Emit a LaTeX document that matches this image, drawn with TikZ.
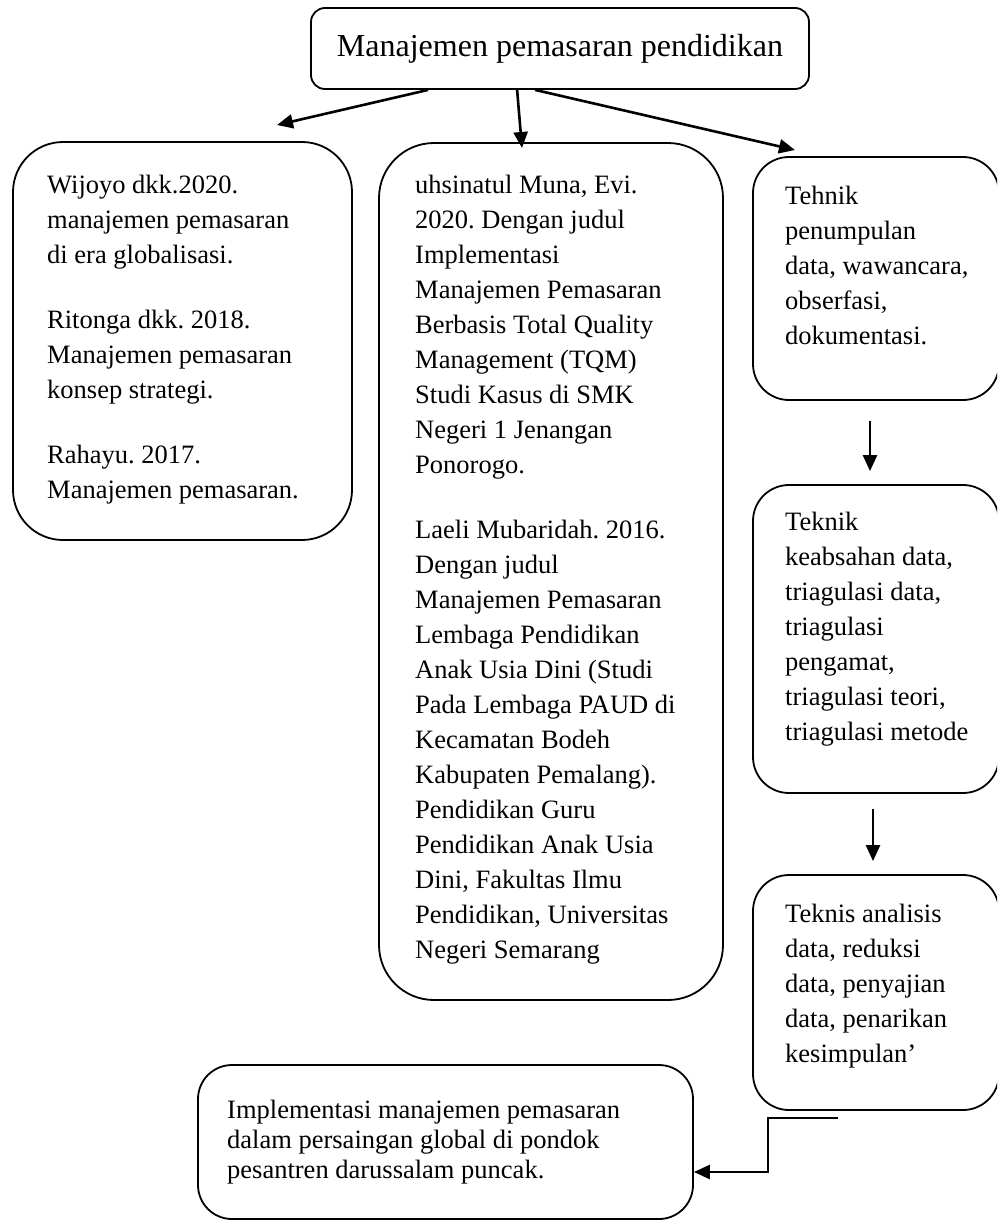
\documentclass[tikz,border=0pt]{standalone}
\usepackage{fontspec}
\setmainfont{Liberation Serif}
\usetikzlibrary{arrows.meta}
\frenchspacing
\begin{document}
\begin{tikzpicture}[x=1pt,y=-1pt,
  box/.style={draw, line width=1.8pt, rounded corners=#1, inner sep=0pt},
  txt/.style={anchor=north west, align=left, inner sep=0pt, font=\fontsize{26.5}{35}\selectfont\frenchspacing},
  btxt/.style={anchor=north west, align=left, inner sep=0pt, font=\fontsize{26.5}{30}\selectfont\frenchspacing},
  arr/.style={line width=2.6pt, -{Triangle[length=16pt,width=14pt]}}]
\clip (0,0) rectangle (997,1221);
\useasboundingbox (0,0) rectangle (997,1221);

% boxes
\node[box=14pt, minimum width=498pt, minimum height=81pt, font=\fontsize{32}{38}\selectfont] (T) at (560,48.5) {Manajemen pemasaran pendidikan};
\node[box=50pt, minimum width=339pt, minimum height=398pt] (L) at (182.5,341) {};
\node[box=55pt, minimum width=344pt, minimum height=857pt] (M) at (551,571.5) {};
\node[box=36pt, minimum width=246pt, minimum height=243pt] (R1) at (876,278.5) {};
\node[box=36pt, minimum width=246pt, minimum height=308pt] (R2) at (876,639) {};
\node[box=36pt, minimum width=246pt, minimum height=235pt] (R3) at (876,992.5) {};
\node[box=34pt, minimum width=495pt, minimum height=154pt] (B) at (445.5,1142) {};

% texts
\node[txt] (Lt) at (47,168.5) {\strut Wijoyo dkk.2020.\\ manajemen pemasaran\\ di era globalisasi.\\[30pt]
Ritonga dkk. 2018.\\ Manajemen pemasaran\\ konsep strategi.\\[30pt]
Rahayu. 2017.\\ Manajemen pemasaran.};
\node[txt] (Mt) at (415,168.5) {\strut uhsinatul Muna, Evi.\\ 2020. Dengan judul\\ Implementasi\\ Manajemen Pemasaran\\ Berbasis Total Quality\\ Management (TQM)\\ Studi Kasus di SMK\\ Negeri 1 Jenangan\\ Ponorogo.\\[30pt]
Laeli Mubaridah. 2016.\\ Dengan judul\\ Manajemen Pemasaran\\ Lembaga Pendidikan\\ Anak Usia Dini (Studi\\ Pada Lembaga PAUD di\\ Kecamatan Bodeh\\ Kabupaten Pemalang).\\ Pendidikan Guru\\ Pendidikan Anak Usia\\ Dini, Fakultas Ilmu\\ Pendidikan, Universitas\\ Negeri Semarang};
\node[txt] (R1t) at (785,179.5) {\strut Tehnik\\ penumpulan\\ data, wawancara,\\ obserfasi,\\ dokumentasi.};
\node[txt] (R2t) at (785,505.5) {\strut Teknik\\ keabsahan data,\\ triagulasi data,\\ triagulasi\\ pengamat,\\ triagulasi teori,\\ triagulasi metode};
\node[txt] (R3t) at (785,897.5) {\strut Teknis analisis\\ data, reduksi\\ data, penyajian\\ data, penarikan\\ kesimpulan’};
\node[btxt] (Bt) at (227,1097) {\strut Implementasi manajemen pemasaran\\ dalam persaingan global di pondok\\ pesantren darussalam puncak.};

% arrow ends
\coordinate (a1) at (277,125);
\coordinate (a2) at (522,148);
\coordinate (a3) at (795,150);
\draw[arr] ([xshift=118pt]T.south west) -- (a1);
\draw[arr] ([xshift=207pt]T.south west) -- (a2);
\draw[arr] ([xshift=225pt]T.south west) -- (a3);

\draw[arr] ([xshift=-6pt,yshift=-20pt]R1.south) -- ([xshift=-6pt,yshift=13pt]R2.north);
\draw[arr] ([xshift=-3pt,yshift=-15pt]R2.south) -- ([xshift=-3pt,yshift=13pt]R3.north);

\coordinate (c0) at (838,1118);
\coordinate (c1) at (768,1172);
\draw[arr] (c0) -| (c1) -- (c1 -| B.east);
\end{tikzpicture}
\end{document}
